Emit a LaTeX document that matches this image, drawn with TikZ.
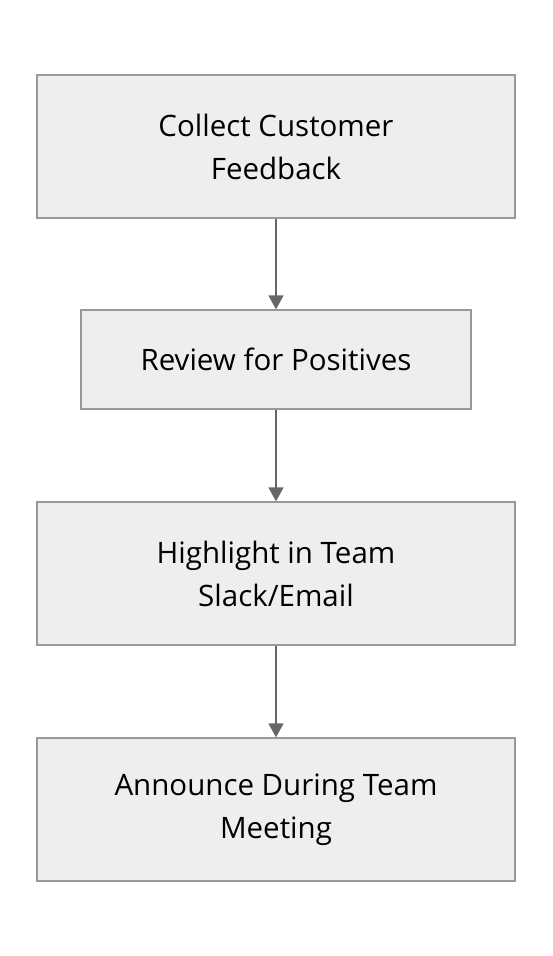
\documentclass[tikz,border=0pt]{standalone}
\usepackage{fontspec}
\setmainfont{Open Sans}
\usetikzlibrary{arrows.meta}
\definecolor{boxfill}{HTML}{EEEEEE}
\definecolor{boxline}{HTML}{999999}
\definecolor{arrowcol}{HTML}{666666}
\tikzset{
  stepbox/.style={draw=boxline, fill=boxfill, line width=1.3pt, align=center, inner sep=0pt, font=\fontsize{29.5}{43}\selectfont, text=black},
  flow/.style={draw=arrowcol, line width=1.6pt, -{Triangle[length=14pt,width=15pt]}}
}
\begin{document}
\begin{tikzpicture}[x=1pt,y=1pt]
\useasboundingbox (0,0) rectangle (552,-956);
\node[stepbox, minimum width=478pt, minimum height=143pt] (a) at (276,-146.5) {Collect Customer\\ Feedback};
\node[stepbox, minimum width=390pt, minimum height=99pt] (b) at (276,-359.5) {Review for Positives};
\node[stepbox, minimum width=478pt, minimum height=143pt] (c) at (276,-573.5) {Highlight in Team\\ Slack/Email};
\node[stepbox, minimum width=478pt, minimum height=143pt] (d) at (276,-809.5) {Announce During Team\\ Meeting};
\draw[flow] (a) -- (b);
\draw[flow] (b) -- (c);
\draw[flow] (c) -- (d);
\end{tikzpicture}
\end{document}
